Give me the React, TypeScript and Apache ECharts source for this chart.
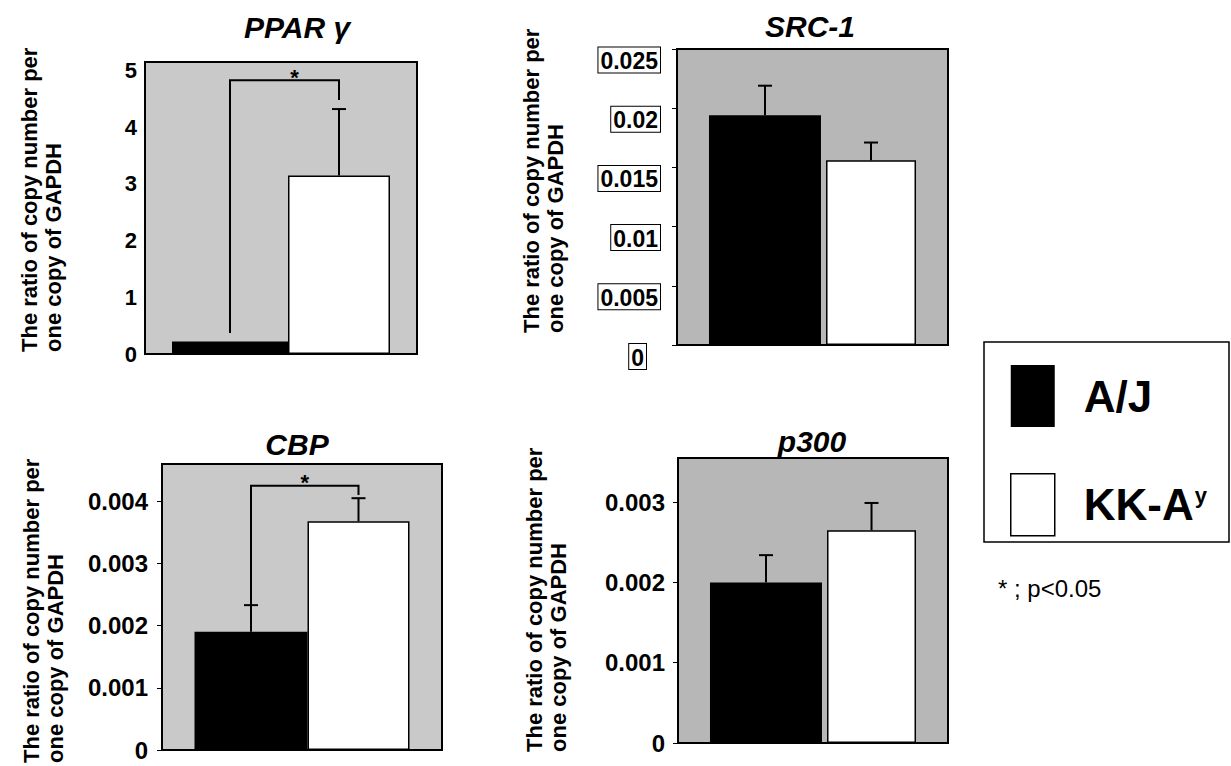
import React, { useEffect, useRef } from 'react';
import * as echarts from 'echarts';

// ---------- data ----------
const genes = ['PPAR γ', 'SRC-1', 'CBP', 'p300'];
const groups = ['A/J', 'KK-Ay'];
const ajMean = [0.22, 0.0194, 0.0019, 0.002];
const ajErr = [0, 0.0025, 0.00043, 0.00034];
const kkMean = [3.15, 0.0156, 0.00368, 0.00265];
const kkErr = [1.17, 0.0015, 0.00037, 0.00034];
const yMax = [5.15, 0.025, 0.0046, 0.00355];
const yInterval = [1, 0.005, 0.001, 0.001];
const ticksPPAR = [0, 1, 2, 3, 4, 5];
const ticksSRC = [0, 0.005, 0.01, 0.015, 0.02, 0.025];
const ticksCBP = [0, 0.001, 0.002, 0.003, 0.004];
const ticksP300 = [0, 0.001, 0.002, 0.003];
const tickLists = [ticksPPAR, ticksSRC, ticksCBP, ticksP300];
// significance brackets: [panel, left foot, top, right foot]
const sigBrackets = [
  [0, 0.37, 4.83, 4.48],
  [2, 0.00233, 0.00425, 0.0041],
];
const sigLabel = '*';
const noteText = '* ; p<0.05';
const yAxisTitle = 'The ratio of copy number per\none copy of GAPDH';

// ---------- layout / style ----------
const FONT = '"Liberation Sans", Arial, Helvetica, sans-serif';
const grids = [
  { left: 145, top: 62, width: 272, height: 292 },
  { left: 677, top: 49, width: 271, height: 296 },
  { left: 162, top: 464, width: 280, height: 286 },
  { left: 678, top: 458, width: 270, height: 285 },
];
const barW = [
  [116, 102],
  [112, 90],
  [113, 102],
  [112, 89],
];
const gapPct = [0, 0.045, 0, 0.045];
const bgColors = ['#c9c9c9', '#b7b7b7', '#c9c9c9', '#b7b7b7'];
const labelSize = [22, 23, 24, 24];
const labelMargin = [8, 17, 14, 13];
const titlePos = [
  [297, 27],
  [810, 26],
  [297, 444],
  [812, 441],
];
const axisTitlePos = [
  [17, 352],
  [519, 333],
  [19, 763],
  [522, 752],
];
const starShift = [10, 0, 0, 0];

function barCenters(i: number, cx: number) {
  const [wB, wW] = barW[i];
  const g = wB * gapPct[i];
  const total = wB + g + wW;
  const left = cx - total / 2;
  return [left + wB / 2, left + wB + g + wW / 2];
}

function fmt(v: number) {
  return String(Number(v.toFixed(4)));
}

export default function App() {
  const ref = useRef<HTMLDivElement>(null);

  useEffect(() => {
    if (!ref.current) return;
    const chart = echarts.init(ref.current, undefined, { renderer: 'svg' });

    const xAxis: any[] = [];
    const yAxis: any[] = [];
    const series: any[] = [];
    const grid: any[] = [];

    for (let i = 0; i < 4; i++) {
      grid.push({
        ...grids[i],
        show: true,
        backgroundColor: bgColors[i],
        borderColor: '#000',
        borderWidth: 2,
        containLabel: false,
      });
      xAxis.push({
        type: 'category',
        gridIndex: i,
        data: [genes[i]],
        axisLine: { show: false },
        axisTick: { show: false },
        axisLabel: { show: false },
        splitLine: { show: false },
      });
      const isSRC = i === 1;
      const axisLabel: any = {
        customValues: tickLists[i],
        margin: labelMargin[i],
        color: '#000',
        fontSize: labelSize[i],
        fontWeight: 'bold',
        fontFamily: FONT,
      };
      if (isSRC) {
        axisLabel.verticalAlign = 'top';
        axisLabel.formatter = (v: number) =>
          v === 0 ? '{b|0}{g|}' : '{b|' + fmt(v) + '}';
        axisLabel.rich = {
          b: {
            borderColor: '#000',
            borderWidth: 1,
            padding: [2, 2, 0, 2],
            backgroundColor: '#fff',
            fontSize: labelSize[i],
            fontWeight: 'bold',
            fontFamily: FONT,
            color: '#000',
            lineHeight: 22,
          },
          g: { width: 14 },
        };
      } else {
        axisLabel.formatter = (v: number) => fmt(v);
      }
      yAxis.push({
        type: 'value',
        gridIndex: i,
        min: 0,
        max: yMax[i],
        interval: yInterval[i],
        axisLine: { show: false },
        splitLine: { show: false },
        axisTick: {
          show: i !== 0,
          customValues: tickLists[i],
          length: 5,
          lineStyle: { color: '#000', width: 1 },
        },
        axisLabel,
      });

      series.push({
        type: 'bar',
        name: groups[0],
        xAxisIndex: i,
        yAxisIndex: i,
        data: [ajMean[i]],
        barWidth: barW[i][0],
        barGap: gapPct[i] * 100 + '%',
        itemStyle: { color: '#000' },
        z: 2,
      });
      series.push({
        type: 'bar',
        name: groups[1],
        xAxisIndex: i,
        yAxisIndex: i,
        data: [kkMean[i]],
        barWidth: barW[i][1],
        barGap: gapPct[i] * 100 + '%',
        itemStyle: { color: '#fff', borderColor: '#000', borderWidth: 1.5 },
        z: 2,
      });
      const panel = i;
      series.push({
        type: 'custom',
        name: 'error',
        xAxisIndex: i,
        yAxisIndex: i,
        silent: true,
        z: 5,
        data: [
          [0, ajMean[i], ajErr[i], 0],
          [0, kkMean[i], kkErr[i], 1],
        ],
        renderItem: (params: any, api: any) => {
          const mean = api.value(1);
          const err = api.value(2);
          const side = api.value(3);
          if (!err) return { type: 'group', children: [] };
          const c0 = api.coord([api.value(0), mean]);
          const c1 = api.coord([api.value(0), mean + err]);
          const x = barCenters(panel, c0[0])[side];
          return {
            type: 'group',
            children: [
              {
                type: 'line',
                shape: { x1: x, y1: c0[1], x2: x, y2: c1[1] },
                style: { stroke: '#000', lineWidth: 2 },
              },
              {
                type: 'line',
                shape: { x1: x - 7, y1: c1[1], x2: x + 7, y2: c1[1] },
                style: { stroke: '#000', lineWidth: 2 },
              },
            ],
          };
        },
      });
    }

    sigBrackets.forEach((b) => {
      const panel = b[0];
      series.push({
        type: 'custom',
        name: 'significance',
        xAxisIndex: panel,
        yAxisIndex: panel,
        silent: true,
        z: 6,
        data: [[0, b[1], b[2], b[3]]],
        renderItem: (params: any, api: any) => {
          const cL = api.coord([api.value(0), api.value(1)]);
          const cT = api.coord([api.value(0), api.value(2)]);
          const cR = api.coord([api.value(0), api.value(3)]);
          const [xl, xr] = barCenters(panel, cL[0]);
          return {
            type: 'group',
            children: [
              {
                type: 'polyline',
                shape: {
                  points: [
                    [xl, cL[1]],
                    [xl, cT[1]],
                    [xr, cT[1]],
                    [xr, cR[1]],
                  ],
                },
                style: { stroke: '#000', lineWidth: 2, fill: 'none' },
              },
              {
                type: 'text',
                x: (xl + xr) / 2 + starShift[panel],
                y: cT[1] - 3,
                style: {
                  text: sigLabel,
                  fontSize: 22,
                  fontWeight: 'bold',
                  fontFamily: FONT,
                  fill: '#000',
                  align: 'center',
                  verticalAlign: 'middle',
                },
              },
            ],
          };
        },
      });
    });

    const graphic: any[] = [];
    for (let i = 0; i < 4; i++) {
      graphic.push({
        type: 'text',
        x: titlePos[i][0],
        y: titlePos[i][1],
        style: {
          text: genes[i],
          fontSize: 30,
          fontWeight: 'bold',
          fontStyle: 'italic',
          fontFamily: FONT,
          fill: '#000',
          align: 'center',
          verticalAlign: 'middle',
        },
      });
      graphic.push({
        type: 'text',
        x: axisTitlePos[i][0],
        y: axisTitlePos[i][1],
        rotation: Math.PI / 2,
        style: {
          text: yAxisTitle,
          fontSize: 22,
          lineHeight: 24,
          fontWeight: 'bold',
          fontFamily: FONT,
          fill: '#000',
          align: 'left',
          verticalAlign: 'top',
        },
      });
    }
    graphic.push({
      type: 'rect',
      shape: { x: 984, y: 342, width: 245, height: 200 },
      style: { fill: 'none', stroke: '#000', lineWidth: 1.5 },
    });
    graphic.push({
      type: 'text',
      x: 998,
      y: 588,
      style: {
        text: noteText,
        fontSize: 24,
        fontFamily: FONT,
        fill: '#000',
        align: 'left',
        verticalAlign: 'middle',
      },
    });

    chart.setOption({
      animation: false,
      backgroundColor: '#fff',
      textStyle: { fontFamily: FONT },
      grid,
      xAxis,
      yAxis,
      series,
      graphic,
      legend: {
        data: [
          { name: groups[0], icon: 'rect', itemStyle: { color: '#000' } },
          {
            name: groups[1],
            icon: 'rect',
            itemStyle: { color: '#fff', borderColor: '#000', borderWidth: 1.5 },
          },
        ],
        orient: 'vertical',
        left: 1010,
        top: 365,
        padding: 0,
        itemWidth: 44,
        itemHeight: 62,
        itemGap: 46,
        selectedMode: false,
        formatter: (name: string) =>
          name === 'KK-Ay' ? '{a|KK-A}{s|y}' : '{a|' + name + '}',
        textStyle: {
          padding: [0, 0, 0, 24],
          rich: {
            a: {
              fontSize: 44,
              fontWeight: 'bold',
              fontFamily: FONT,
              color: '#000',
              lineHeight: 48,
            },
            s: {
              fontSize: 22,
              fontWeight: 'bold',
              fontFamily: FONT,
              color: '#000',
              verticalAlign: 'top',
              lineHeight: 22,
              padding: [4, 0, 0, 1],
            },
          },
        },
      },
    });

    return () => chart.dispose();
  }, []);

  return (
    <div
      ref={ref}
      style={{ position: 'absolute', left: 0, top: 0, width: 1231, height: 766 }}
    />
  );
}
